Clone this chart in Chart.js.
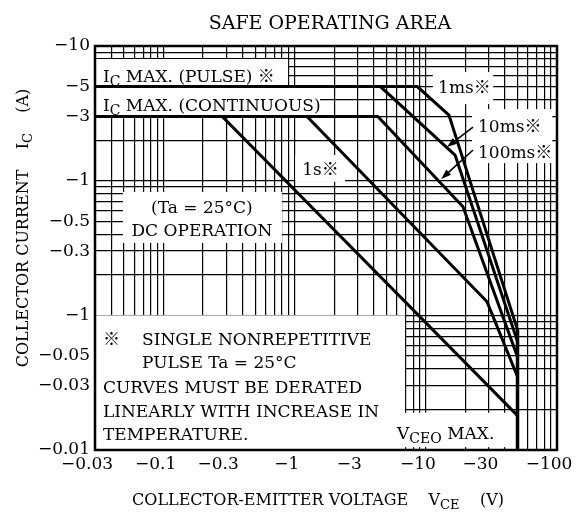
<!DOCTYPE html>
<html>
<head>
<meta charset="utf-8">
<script src="https://cdn.jsdelivr.net/npm/chart.js@4.4.1/dist/chart.umd.min.js"></script>
<style>
  html, body { margin: 0; padding: 0; background: #fff; }
  #wrap { width: 586px; height: 515px; position: relative; }
</style>
</head>
<body>
<div id="wrap"><canvas id="soa"></canvas></div>
<script>
// SOA limits. Magnitudes only, the axes print them negative.
var v1ms = [0.03, 8.6, 15, 50];
var a1ms = [5, 5, 3.07, 0.078];
var v10ms = [0.03, 4.5, 16.7, 50];
var a10ms = [5, 5, 1.55, 0.064];
var v100ms = [0.03, 4.3, 19.2, 50];
var a100ms = [3, 3, 0.64, 0.049];
var v1s = [0.03, 1.24, 29.3, 50];
var a1s = [3, 3, 0.126, 0.035];
var vDC = [0.03, 0.28, 50];
var aDC = [3, 3, 0.018];
var vVceo = [50, 50];
var aVceo = [0.078, 0.01];

var xTicks = [0.03, 0.1, 0.3, 1, 3, 10, 30, 100];
var xTickLabels = ['\u22120.03', '\u22120.1', '\u22120.3', '\u22121', '\u22123', '\u221210', '\u221230', '\u2212100'];
var yTicks = [10, 5, 3, 1, 0.5, 0.3, 0.1, 0.05, 0.03, 0.01];
// the datasheet prints -1 at the -0.1 line, kept as printed
var yTickLabels = ['\u221210', '\u22125', '\u22123', '\u22121', '\u22120.5', '\u22120.3', '\u22121', '\u22120.05', '\u22120.03', '\u22120.01'];

var SERIF = '"DejaVu Serif", "Noto Sans CJK JP", serif';

function pts(xs, ys) {
    return xs.map(function (v, i) { return { x: v, y: ys[i] }; });
}

function logGrid(min, max) {
    var out = [];
    for (var e = -3; e <= 3; e++) {
        for (var m = 1; m <= 9; m++) {
            var v = parseFloat((m * Math.pow(10, e)).toPrecision(6));
            if (v >= min * 0.9999 && v <= max * 1.0001) out.push(v);
        }
    }
    return out;
}

function tickLabel(values, labels) {
    return function (value) {
        for (var i = 0; i < values.length; i++) {
            if (Math.abs(values[i] - value) < values[i] * 1e-6) return labels[i];
        }
        return '';
    };
}

// white label boxes [xmin, xmax, ymax, ymin] in data units
var boxes = [
    [0.03, 0.89, 8.0, 5],
    [0.03, 1.56, 4.88, 3],
    [11.3, 32.6, 6.4, 3.7],
    [22.5, 92, 3.4, 1.35],
    [1.01, 2.42, 1.55, 0.98],
    [0.049, 0.80, 0.824, 0.345],
    [0.03, 6.94, 0.1, 0.01],
    [5.8, 45.5, 0.0189, 0.0105]
];

var texts = [
    { x: 0.0345, y: 5.41, parts: [{ t: 'I' }, { t: 'C', sub: true }, { t: ' MAX. (PULSE) \u203B' }] },
    { x: 0.0345, y: 3.29, parts: [{ t: 'I' }, { t: 'C', sub: true }, { t: ' MAX. (CONTINUOUS)' }] },
    { x: 12.4, y: 4.48, parts: [{ t: '1ms\u203B' }] },
    { x: 25.0, y: 2.30, parts: [{ t: '10ms\u203B' }] },
    { x: 25.0, y: 1.474, parts: [{ t: '100ms\u203B' }] },
    { x: 1.14, y: 1.10, parts: [{ t: '1s\u203B' }] },
    { x: 0.196, y: 0.575, parts: [{ t: '(Ta = 25\u00B0C)' }], align: 'center' },
    { x: 0.196, y: 0.389, parts: [{ t: 'DC OPERATION' }], align: 'center' },
    { x: 0.0345, y: 0.0603, parts: [{ t: '\u203B' }] },
    { x: 0.0685, y: 0.0603, parts: [{ t: 'SINGLE NONREPETITIVE' }] },
    { x: 0.0685, y: 0.0407, parts: [{ t: 'PULSE Ta = 25\u00B0C' }] },
    { x: 0.0345, y: 0.0265, parts: [{ t: 'CURVES MUST BE DERATED' }] },
    { x: 0.0345, y: 0.0176, parts: [{ t: 'LINEARLY WITH INCREASE IN' }] },
    { x: 0.0345, y: 0.01189, parts: [{ t: 'TEMPERATURE.' }] },
    { x: 6.03, y: 0.0121, parts: [{ t: 'V' }, { t: 'CEO', sub: true }, { t: ' MAX.' }] }
];

// arrows [fromV, fromA, toV, toA]
var arrows = [
    [22.9, 2.5, 14.5, 1.78],
    [22.9, 1.69, 13.1, 1.03]
];

function drawRich(ctx, parts, x, y, size, align) {
    var w = 0;
    parts.forEach(function (p) {
        ctx.font = (p.sub ? Math.round(size * 0.82) : size) + 'px ' + SERIF;
        w += ctx.measureText(p.t).width;
    });
    if (align === 'center') x -= w / 2;
    ctx.textAlign = 'left';
    ctx.textBaseline = 'alphabetic';
    parts.forEach(function (p) {
        ctx.font = (p.sub ? Math.round(size * 0.82) : size) + 'px ' + SERIF;
        ctx.fillText(p.t, x, y + (p.sub ? size * 0.22 : 0));
        x += ctx.measureText(p.t).width;
    });
}

var notesPlugin = {
    id: 'notes',
    beforeDatasetsDraw: function (chart) {
        var ctx = chart.ctx, xs = chart.scales.x, ys = chart.scales.y;
        ctx.save();
        ctx.fillStyle = '#fff';
        boxes.forEach(function (b) {
            var x1 = xs.getPixelForValue(b[0]), x2 = xs.getPixelForValue(b[1]);
            var y1 = ys.getPixelForValue(b[2]), y2 = ys.getPixelForValue(b[3]);
            ctx.fillRect(x1, y1, x2 - x1, y2 - y1);
        });
        ctx.fillStyle = '#000';
        texts.forEach(function (t) {
            drawRich(ctx, t.parts, xs.getPixelForValue(t.x), ys.getPixelForValue(t.y), 17, t.align);
        });
        ctx.restore();
    },
    afterDatasetsDraw: function (chart) {
        var ctx = chart.ctx, xs = chart.scales.x, ys = chart.scales.y, a = chart.chartArea;
        ctx.save();
        ctx.strokeStyle = '#000';
        ctx.fillStyle = '#000';
        ctx.lineWidth = 1.6;
        arrows.forEach(function (r) {
            var x1 = xs.getPixelForValue(r[0]), y1 = ys.getPixelForValue(r[1]);
            var x2 = xs.getPixelForValue(r[2]), y2 = ys.getPixelForValue(r[3]);
            var ang = Math.atan2(y2 - y1, x2 - x1);
            ctx.beginPath();
            ctx.moveTo(x1, y1);
            ctx.lineTo(x2 - 8 * Math.cos(ang), y2 - 8 * Math.sin(ang));
            ctx.stroke();
            ctx.beginPath();
            ctx.moveTo(x2, y2);
            ctx.lineTo(x2 - 10 * Math.cos(ang) + 3.5 * Math.sin(ang), y2 - 10 * Math.sin(ang) - 3.5 * Math.cos(ang));
            ctx.lineTo(x2 - 10 * Math.cos(ang) - 3.5 * Math.sin(ang), y2 - 10 * Math.sin(ang) + 3.5 * Math.cos(ang));
            ctx.closePath();
            ctx.fill();
        });
        // frame
        ctx.lineWidth = 2.5;
        ctx.strokeRect(a.left, a.top, a.right - a.left, a.bottom - a.top);

        // title and axis titles
        drawRich(ctx, [{ t: 'SAFE OPERATING AREA' }], (a.left + a.right) / 2 + 4, 29, 19, 'center');
        drawRich(ctx, [{ t: 'COLLECTOR-EMITTER VOLTAGE    V' }, { t: 'CE', sub: true }, { t: '    (V)' }],
            (a.left + a.right) / 2 - 8, a.bottom + 55, 16, 'center');
        ctx.translate(a.left - 72, (a.top + a.bottom) / 2 - 20);
        ctx.rotate(-Math.PI / 2);
        drawRich(ctx, [{ t: 'COLLECTOR CURRENT    I' }, { t: 'C', sub: true }, { t: '    (A)' }], 0, 5, 16, 'center');
        ctx.restore();
    }
};

function curve(data) {
    return {
        data: data,
        showLine: true,
        borderColor: '#000',
        borderWidth: 3,
        pointRadius: 0,
        tension: 0,
        fill: false
    };
}

var ctx = document.getElementById('soa').getContext('2d');
var chart = new Chart(ctx, {
    type: 'scatter',
    data: {
        datasets: [
            curve(pts(v1ms, a1ms)),
            curve(pts(v10ms, a10ms)),
            curve(pts(v100ms, a100ms)),
            curve(pts(v1s, a1s)),
            curve(pts(vDC, aDC)),
            Object.assign(curve(pts(vVceo, aVceo)), { borderWidth: 3.5 })
        ]
    },
    options: {
        responsive: true,
        maintainAspectRatio: false,
        animation: false,
        devicePixelRatio: 1,
        layout: { padding: { left: 33, right: 29, top: 46, bottom: 35 } },
        plugins: { legend: { display: false }, tooltip: { enabled: false }, title: { display: false } },
        scales: {
            x: {
                type: 'logarithmic',
                min: 0.03,
                max: 100,
                afterBuildTicks: function (scale) {
                    scale.ticks = logGrid(scale.min, scale.max).map(function (v) { return { value: v }; });
                },
                afterFit: function (scale) { scale.height = 30; },
                grid: { color: '#000', lineWidth: 1.2, drawTicks: false },
                border: { display: false },
                ticks: {
                    autoSkip: false,
                    maxRotation: 0,
                    padding: 4,
                    labelOffset: -8,
                    color: '#000',
                    font: { family: SERIF, size: 17 },
                    callback: tickLabel(xTicks, xTickLabels)
                }
            },
            y: {
                type: 'logarithmic',
                min: 0.01,
                max: 10,
                afterBuildTicks: function (scale) {
                    scale.ticks = logGrid(scale.min, scale.max).map(function (v) { return { value: v }; });
                },
                afterFit: function (scale) { scale.width = 62; },
                grid: { color: '#000', lineWidth: 1.2, drawTicks: false },
                border: { display: false },
                ticks: {
                    autoSkip: false,
                    padding: 5,
                    color: '#000',
                    font: { family: SERIF, size: 17 },
                    callback: tickLabel(yTicks, yTickLabels)
                }
            }
        }
    },
    plugins: [notesPlugin]
});
</script>
</body>
</html>
